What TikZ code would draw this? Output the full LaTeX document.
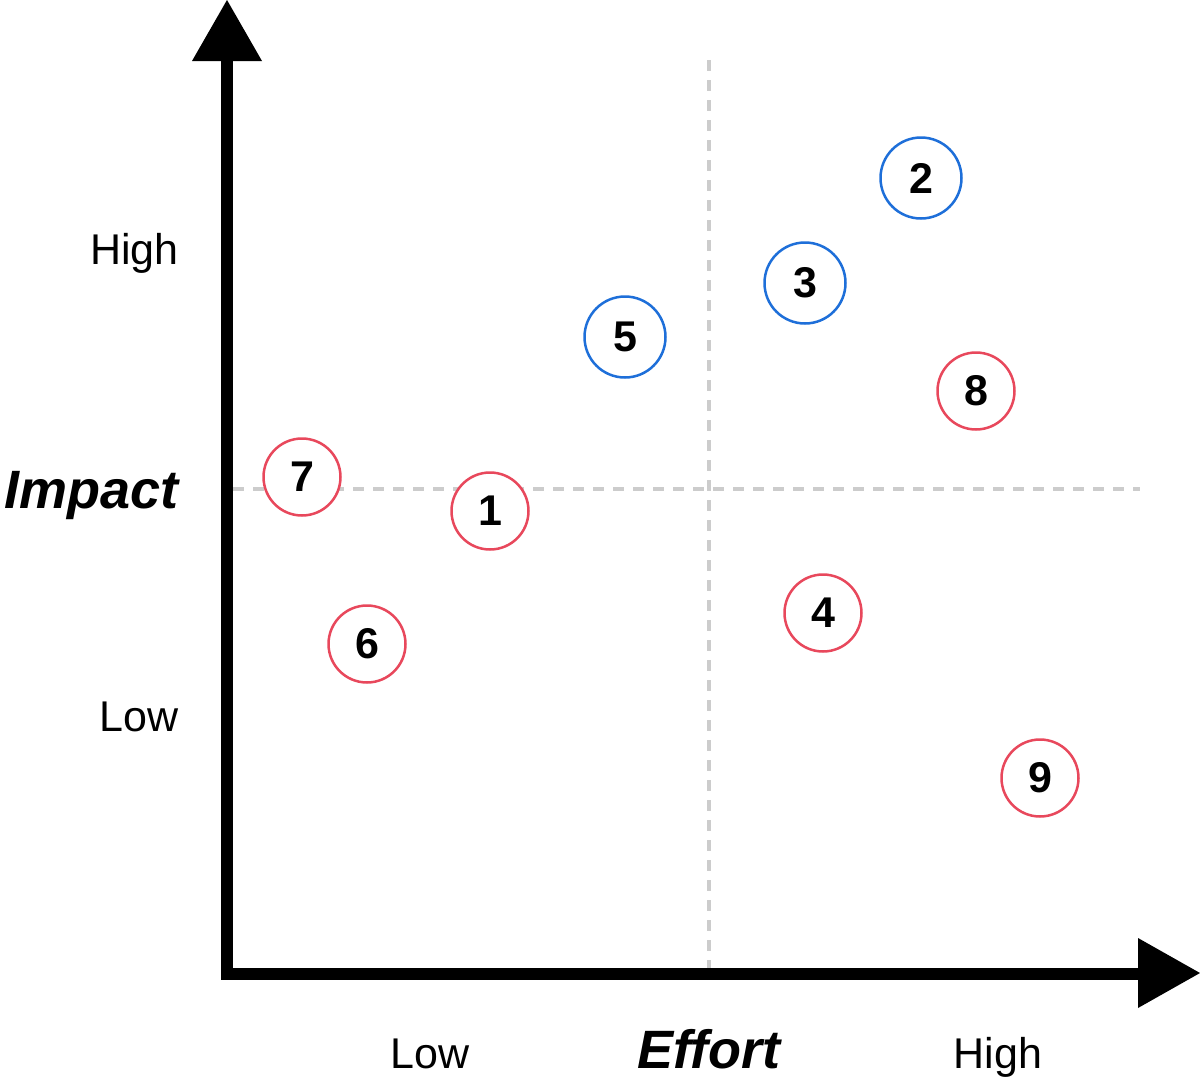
\documentclass[tikz,border=0pt]{standalone}
\usepackage{fontspec}
\setmainfont{Liberation Sans}
\definecolor{cblue}{HTML}{1E6FD9}
\definecolor{cred}{HTML}{E8485C}
\definecolor{cgrid}{HTML}{CCCCCC}
\begin{document}
\begin{tikzpicture}[x=1pt,y=-1pt,
  axis/.style={line width=12pt, line join=miter, line cap=butt},
  grid/.style={cgrid, line width=4pt, dash pattern=on 11pt off 9pt},
  bluept/.style={circle, draw=cblue, line width=2.5pt, fill=white, minimum size=81pt, inner sep=0pt, font=\fontsize{43}{48}\selectfont\bfseries},
  redpt/.style={circle, draw=cred, line width=2.5pt, fill=white, minimum size=77pt, inner sep=0pt, font=\fontsize{43}{48}\selectfont\bfseries},
  tick/.style={font=\fontsize{43}{48}\selectfont, inner sep=0pt},
  axlabel/.style={font=\fontsize{54}{60}\selectfont\bfseries\itshape, inner sep=0pt}]
\useasboundingbox (0,0) rectangle (1200,1079);
% grid
\coordinate (vtop) at (709,60);
\coordinate (vbot) at (709,968);
\coordinate (hl) at (233,489);
\coordinate (hr) at (1140,489);
\draw[grid] (vtop) -- (vbot);
\draw[grid] (hl) -- (hr);
% axes
\coordinate (ytop) at (227,58);
\coordinate (orig) at (227,974);
\coordinate (xend) at (1140,974);
\draw[axis] (ytop) -- (227,980) (221,974) -- (xend);
\fill (192,61) -- (227,0) -- (262,61) -- cycle;
\fill (1138,938) -- (1200,973) -- (1138,1008) -- cycle;
% labels
\node[tick, anchor=base east] (hy) at (179,264) {High};
\node[tick, anchor=base east] (ly) at (179,731) {Low};
\node[axlabel, anchor=base east] (imp) at (179,508) {Impact};
\node[tick, anchor=base] (lx) at (430,1068) {Low};
\node[tick, anchor=base] (hx) at (998,1068) {High};
\node[axlabel, anchor=base] (eff) at (709,1068) {Effort};
% points
\node[redpt] (p1) at (490,511) {1};
\node[bluept] (p2) at (921,178) {2};
\node[bluept] (p3) at (805,283) {3};
\node[redpt] (p4) at (823,613) {4};
\node[bluept] (p5) at (625,337) {5};
\node[redpt] (p6) at (367,644) {6};
\node[redpt] (p7) at (302,477) {7};
\node[redpt] (p8) at (976,391) {8};
\node[redpt] (p9) at (1040,778) {9};
\end{tikzpicture}
\end{document}
